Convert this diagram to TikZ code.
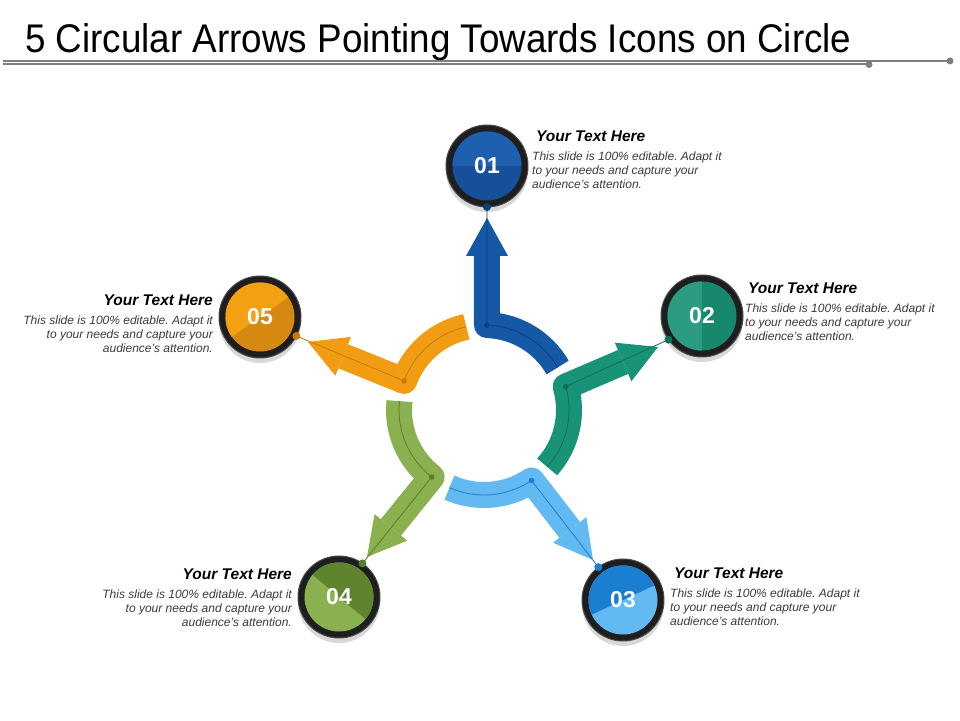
\documentclass[tikz,border=0pt]{standalone}
\usepackage{fontspec}
\setmainfont{Liberation Sans}
\usetikzlibrary{calc,shadows}
\frenchspacing
\definecolor{rulec}{HTML}{7F7F7F}
\definecolor{ringc}{HTML}{1E1E1E}
\definecolor{ringedge}{HTML}{4A4A4A}
\definecolor{bodyc}{HTML}{3B3B3B}
\definecolor{ablue}{HTML}{1558A6}
\definecolor{dblue}{HTML}{0D3F7A}
\definecolor{ateal}{HTML}{199377}
\definecolor{dteal}{HTML}{0F6E58}
\definecolor{alblue}{HTML}{63B9F1}
\definecolor{dlblue}{HTML}{1A7FD0}
\definecolor{agreen}{HTML}{8BB04F}
\definecolor{dgreen}{HTML}{5B7F2A}
\definecolor{aorange}{HTML}{F29C13}
\definecolor{dorange}{HTML}{C77A08}
\definecolor{cblueA}{HTML}{17509A}
\definecolor{cblueB}{HTML}{1E5FAF}
\newcommand\mybadge[6]{% name, center, split angle, colour A, colour B, label
  \node[ring] (#1) at (#2) {};
  \begin{scope}
    \clip (#1.center) circle (34.5pt);
    \fill[#4] (#1.center) circle (36pt);
    \fill[#5, rotate around={#3:(#1.center)}] ($(#1.center)+(-50pt,0pt)$) rectangle ($(#1.center)+(50pt,50pt)$);
  \end{scope}
  \node[num] (#1l) at (#1.center) {#6};
}
\newcommand\myarrow[5]{% angle, index, colour, dark colour, circle name
  \coordinate (C#2) at ($(O)+({#1}:85pt)$);
  \coordinate (E#2) at ($(O)+({#1-58}:85pt)$);
  \coordinate (B#2) at ($(tip#2)!38pt!(C#2)$);
  \coordinate (D#2) at ($(#5.center)!41pt!(tip#2)$);
  \draw[line width=26pt, draw=#3, line join=round] (E#2) arc[start angle={#1-58}, end angle={#1}, radius=85pt] -- (B#2);
  \fill[#3] ($(B#2)!21pt!90:(tip#2)$) -- (tip#2) -- ($(B#2)!21pt!-90:(tip#2)$) -- cycle;
  \draw[#4, line width=0.8pt] (E#2) arc[start angle={#1-58}, end angle={#1}, radius=85pt] -- (D#2);
  \fill[#4] (C#2) circle (2.8pt);
  \fill[#4] (D#2) circle (4pt);
}
\begin{document}
\begin{tikzpicture}[x=1pt,y=1pt,
  ring/.style={circle, minimum size=82pt, inner sep=0pt, fill=ringc, draw=ringedge, line width=1pt,
    drop shadow={opacity=0.3, shadow xshift=0pt, shadow yshift=-5pt}},
  num/.style={text=white, font=\fontsize{23}{23}\selectfont\bfseries, inner sep=0pt},
  head/.style={font=\fontsize{15.5}{18}\selectfont\bfseries\itshape, inner sep=0pt},
  body/.style={font=\fontsize{12}{14}\selectfont\itshape, text=bodyc, inner sep=0pt},
  rule/.style={draw=rulec, line width=2pt}]
\useasboundingbox[fill=white] (0,0) rectangle (960,720);
% title
\node[anchor=base west, inner sep=0pt] (title) at (25,667)
  {\fontsize{40}{44}\selectfont\scalebox{0.92}[1]{5 Circular Arrows Pointing Towards Icons on Circle}};
\coordinate (rA) at (3,659);
\coordinate (rB) at (950,659);
\coordinate (rC) at (3,655.5);
\coordinate (rD) at (869,655.5);
\draw[rule] (rA) -- (rB);
\draw[rule] (rC) -- (rD);
\fill[rulec] (rB) circle (3.5pt);
\fill[rulec] (rD) circle (3.5pt);
% badges
\mybadge{n1}{487,554}{0}{cblueA}{cblueB}{01}
\mybadge{n2}{702,404}{90}{ateal!92!black}{ateal!92!white}{02}
\mybadge{n3}{623,120}{25}{alblue}{dlblue}{03}
\mybadge{n4}{339,123}{-40}{agreen}{dgreen!90!agreen}{04}
\mybadge{n5}{260,403}{35}{aorange!88!black}{aorange!95!yellow}{05}
% arrows
\coordinate (O) at (484,310);
\coordinate (tip1) at (487,502);
\coordinate (tip2) at (658,373);
\coordinate (tip3) at (593,160);
\coordinate (tip4) at (367,163);
\coordinate (tip5) at (308,378);
\myarrow{88}{1}{ablue}{dblue}{n1}
\myarrow{16}{2}{ateal}{dteal}{n2}
\myarrow{-56}{3}{alblue}{dlblue}{n3}
\myarrow{-128}{4}{agreen}{dgreen}{n4}
\myarrow{160}{5}{aorange}{dorange}{n5}
% texts
\node[head, anchor=base west] (h1) at (536,578.5) {Your Text Here};
\node[body, anchor=north west, align=left] (b1) at (532,568.7) {This slide is 100\% editable. Adapt it\\to your needs and capture your\\audience's attention.};
\node[head, anchor=base west] (h2) at (748,426.5) {Your Text Here};
\node[body, anchor=north west, align=left] (b2) at (745,416.7) {This slide is 100\% editable. Adapt it\\to your needs and capture your\\audience's attention.};
\node[head, anchor=base west] (h3) at (674,141.5) {Your Text Here};
\node[body, anchor=north west, align=left] (b3) at (670,131.7) {This slide is 100\% editable. Adapt it\\to your needs and capture your\\audience's attention.};
\node[head, anchor=base east] (h4) at (292,140.5) {Your Text Here};
\node[body, anchor=north east, align=right] (b4) at (292,130.7) {This slide is 100\% editable. Adapt it\\to your needs and capture your\\audience's attention.};
\node[head, anchor=base east] (h5) at (213,414.5) {Your Text Here};
\node[body, anchor=north east, align=right] (b5) at (213,404.7) {This slide is 100\% editable. Adapt it\\to your needs and capture your\\audience's attention.};
\end{tikzpicture}
\end{document}
